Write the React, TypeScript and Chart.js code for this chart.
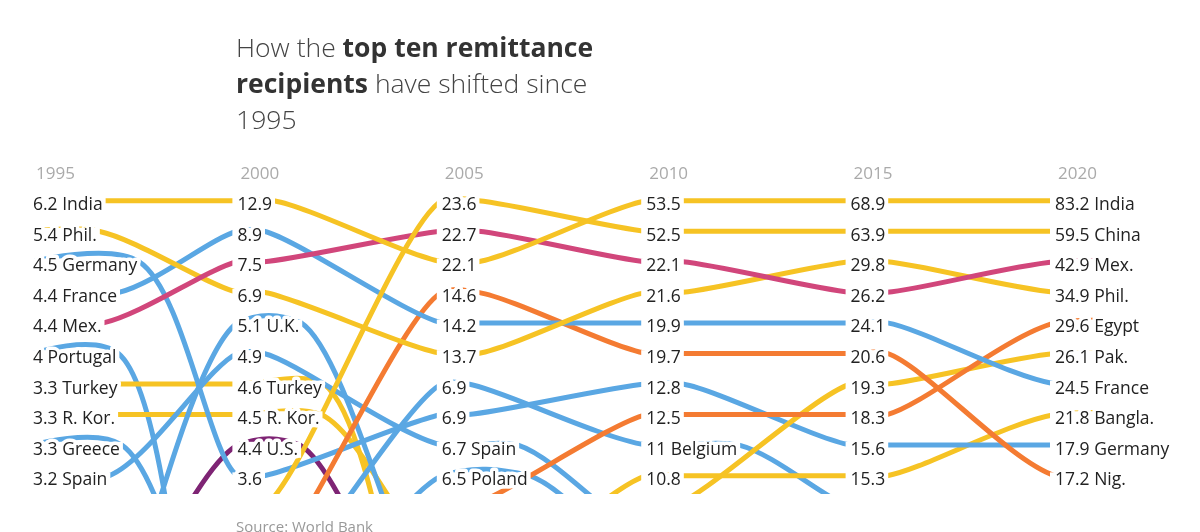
import React, { useEffect, useRef } from 'react';
import { Chart, registerables } from 'chart.js';

Chart.register(...registerables);

// ---------- data ----------
const years = [1995, 2000, 2005, 2010, 2015, 2020];
const topN = 10;

// Remittances received, US$ billion (null = outside the top ten)
// ranks: position among recipients (values > 10 are below the visible top ten)
const indiaValues = [6.2, 12.9, 22.1, 53.5, 68.9, 83.2];
const indiaRanks = [1, 1, 3, 1, 1, 1];
const philValues = [5.4, 6.9, 13.7, 21.6, 29.8, 34.9];
const philRanks = [2, 4, 6, 4, 3, 4];
const germanyValues = [4.5, 3.6, 6.9, 12.8, 15.6, 17.9];
const germanyRanks = [3, 10, 8, 7, 9, 9];
const franceValues = [4.4, 8.9, 14.2, 19.9, 24.1, 24.5];
const franceRanks = [4, 2, 5, 5, 5, 7];
const mexicoValues = [4.4, 7.5, 22.7, 22.1, 26.2, 42.9];
const mexicoRanks = [5, 3, 2, 3, 4, 3];
const portugalValues = [4, null, null, null, null, null];
const portugalRanks = [6, 25, null, null, null, null];
const turkeyValues = [3.3, 4.6, null, null, null, null];
const turkeyRanks = [7, 7, 19, null, null, null];
const koreaValues = [3.3, 4.5, null, null, null, null];
const koreaRanks = [8, 8, 13, null, null, null];
const greeceValues = [3.3, null, null, null, null, null];
const greeceRanks = [9, 18, null, null, null, null];
const spainValues = [3.2, 4.9, 6.7, null, null, null];
const spainRanks = [10, 6, 9, 12, null, null];
const ukValues = [null, 5.1, null, null, null, null];
const ukRanks = [20, 5, 15, null, null, null];
const usValues = [null, 4.4, null, null, null, null];
const usRanks = [18, 9, 17, null, null, null];
const chinaValues = [null, null, 23.6, 52.5, 63.9, 59.5];
const chinaRanks = [null, 11, 1, 2, 2, 2];
const nigeriaValues = [null, null, 14.6, 19.7, 20.6, 17.2];
const nigeriaRanks = [null, 13, 4, 6, 6, 10];
const belgiumValues = [null, null, 6.9, 11, null, null];
const belgiumRanks = [null, 14, 7, 9, 11, null];
const polandValues = [null, null, 6.5, null, null, null];
const polandRanks = [null, 17, 10, 13, null, null];
const egyptValues = [null, null, null, 12.5, 18.3, 29.6];
const egyptRanks = [null, null, 11, 8, 8, 5];
const banglaValues = [null, null, null, 10.8, 15.3, 21.8];
const banglaRanks = [null, null, 14, 10, 10, 8];
const pakValues = [null, null, null, null, 19.3, 26.1];
const pakRanks = [null, null, null, 11, 7, 6];

const regionColors: Record<string, string> = {
  asia: '#F6C324',
  europe: '#5AA7E3',
  latam: '#D1467B',
  africa: '#F47B32',
  northAmerica: '#7E2474',
};

type Country = { name: string; region: string; values: (number | null)[]; ranks: (number | null)[] };

const countries: Country[] = [
  { name: 'India', region: 'asia', values: indiaValues, ranks: indiaRanks },
  { name: 'China', region: 'asia', values: chinaValues, ranks: chinaRanks },
  { name: 'Mex.', region: 'latam', values: mexicoValues, ranks: mexicoRanks },
  { name: 'Phil.', region: 'asia', values: philValues, ranks: philRanks },
  { name: 'France', region: 'europe', values: franceValues, ranks: franceRanks },
  { name: 'Nig.', region: 'africa', values: nigeriaValues, ranks: nigeriaRanks },
  { name: 'Egypt', region: 'africa', values: egyptValues, ranks: egyptRanks },
  { name: 'Pak.', region: 'asia', values: pakValues, ranks: pakRanks },
  { name: 'Germany', region: 'europe', values: germanyValues, ranks: germanyRanks },
  { name: 'Bangla.', region: 'asia', values: banglaValues, ranks: banglaRanks },
  { name: 'Belgium', region: 'europe', values: belgiumValues, ranks: belgiumRanks },
  { name: 'Poland', region: 'europe', values: polandValues, ranks: polandRanks },
  { name: 'Spain', region: 'europe', values: spainValues, ranks: spainRanks },
  { name: 'U.K.', region: 'europe', values: ukValues, ranks: ukRanks },
  { name: 'U.S.', region: 'northAmerica', values: usValues, ranks: usRanks },
  { name: 'Turkey', region: 'asia', values: turkeyValues, ranks: turkeyRanks },
  { name: 'R. Kor.', region: 'asia', values: koreaValues, ranks: koreaRanks },
  { name: 'Portugal', region: 'europe', values: portugalValues, ranks: portugalRanks },
  { name: 'Greece', region: 'europe', values: greeceValues, ranks: greeceRanks },
];

// ---------- helpers ----------
const LABEL_SIZE = 17.5;
const LABEL_FONT = `${LABEL_SIZE}px "Open Sans"`;
const TEXT_DY = 9.5;
const LABEL_SEGMENT_BEND = 0.7;

function buildData(c: Country) {
  let lastTop = -1;
  c.ranks.forEach((r, i) => {
    if (r != null && r <= topN) lastTop = i;
  });
  const pts: any[] = [];
  c.ranks.forEach((r, i) => {
    if (r == null) return;
    const onChart = r <= topN;
    const v = c.values[i];
    const showName = onChart && (i === 0 || i === years.length - 1 || i === lastTop);
    const label = onChart ? (showName ? `${v} ${c.name}` : `${v}`) : '';
    pts.push({ x: years[i], y: r });
    pts.push({ x: years[i], y: r, end: true, label });
  });
  return pts;
}

function layoutLines(chart: any) {
  const ctx = chart.ctx;
  ctx.save();
  ctx.font = LABEL_FONT;
  const hiddenW = ctx.measureText('0.0').width;
  chart.data.datasets.forEach((ds: any, di: number) => {
    const meta = chart.getDatasetMeta(di);
    const els = meta.data as any[];
    const raw = ds.data as any[];
    for (let i = 0; i < els.length; i++) {
      if (raw[i].end) {
        const w = raw[i].label ? ctx.measureText(raw[i].label).width : hiddenW;
        els[i].x = els[i - 1].x + w + 2;
      }
    }
    const n = els.length;
    const dist = (a: any, b: any) => Math.hypot(a.x - b.x, a.y - b.y);
    for (let k = 0; k < n - 1; k++) {
      const p1 = els[k];
      const p2 = els[k + 1];
      const p0 = k > 0 ? els[k - 1] : null;
      const p3 = k + 2 < n ? els[k + 2] : null;
      const l12_2a = dist(p1, p2);
      const l12_a = Math.sqrt(l12_2a);
      let c1x = p1.x, c1y = p1.y, c2x = p2.x, c2y = p2.y;
      if (p0) {
        const l01_2a = dist(p0, p1);
        const l01_a = Math.sqrt(l01_2a);
        if (l01_a > 1e-6) {
          const a = 2 * l01_2a + 3 * l01_a * l12_a + l12_2a;
          const nn = 3 * l01_a * (l01_a + l12_a);
          c1x = (p1.x * a - p0.x * l12_2a + p2.x * l01_2a) / nn;
          c1y = (p1.y * a - p0.y * l12_2a + p2.y * l01_2a) / nn;
        }
      }
      if (p3) {
        const l23_2a = dist(p2, p3);
        const l23_a = Math.sqrt(l23_2a);
        if (l23_a > 1e-6) {
          const b = 2 * l23_2a + 3 * l23_a * l12_a + l12_2a;
          const m = 3 * l23_a * (l23_a + l12_a);
          c2x = (p2.x * b + p1.x * l23_2a - p3.x * l12_2a) / m;
          c2y = (p2.y * b + p1.y * l23_2a - p3.y * l12_2a) / m;
        }
      }
      if (raw[k + 1].end && p0) {
        // segment under a label that has neighbours on both sides: soften its bend
        c1y = p1.y + (c1y - p1.y) * LABEL_SEGMENT_BEND;
        c2y = p2.y + (c2y - p2.y) * LABEL_SEGMENT_BEND;
      }
      p1.cp2x = c1x; p1.cp2y = c1y;
      p2.cp1x = c2x; p2.cp1y = c2y;
    }
    if (meta.dataset) {
      meta.dataset._pointsUpdated = true;
      meta.dataset._path = undefined;
    }
  });
  ctx.restore();
}

const bumpPlugin = {
  id: 'bumpLines',
  beforeDatasetsDraw(chart: any) {
    layoutLines(chart);
  },
  afterDatasetsDraw(chart: any) {
    const ctx = chart.ctx;
    ctx.save();
    ctx.font = LABEL_FONT;
    ctx.textAlign = 'left';
    ctx.textBaseline = 'alphabetic';
    const items: any[] = [];
    chart.data.datasets.forEach((ds: any, di: number) => {
      const els = chart.getDatasetMeta(di).data as any[];
      (ds.data as any[]).forEach((r, i) => {
        if (r.end && r.label) {
          const s = els[i - 1];
          items.push({ x: s.x, y: s.y + TEXT_DY, label: r.label, w: ctx.measureText(r.label).width });
        }
      });
    });
    // white knock-out: a band through the text plus a halo around the glyphs
    ctx.fillStyle = '#ffffff';
    ctx.strokeStyle = '#ffffff';
    ctx.lineWidth = 7;
    ctx.lineJoin = 'round';
    items.forEach((it) => {
      ctx.fillRect(it.x - 5, it.y - 12.8, it.w + 8, 16);
      ctx.strokeText(it.label, it.x, it.y);
    });
    ctx.fillStyle = '#222222';
    items.forEach((it) => ctx.fillText(it.label, it.x, it.y));
    ctx.restore();
  },
};

export default function App() {
  const ref = useRef<HTMLCanvasElement | null>(null);
  useEffect(() => {
    if (!ref.current) return;
    const chart = new Chart(ref.current, {
      type: 'line',
      data: {
        datasets: countries.map((c) => ({
          label: c.name,
          data: buildData(c),
          borderColor: regionColors[c.region],
          backgroundColor: regionColors[c.region],
          borderWidth: 5,
          borderCapStyle: 'round',
          pointRadius: 0,
          pointHoverRadius: 0,
          tension: 0.4,
          fill: false,
          clip: { left: 40, top: 40, right: 40, bottom: 0 },
        })) as any,
      },
      options: {
        animation: false,
        responsive: false,
        devicePixelRatio: 1,
        events: [],
        layout: { padding: { left: 33, right: 145, top: 155.4, bottom: 38 } },
        plugins: {
          legend: { display: false },
          tooltip: { enabled: false },
          title: { display: false },
        },
        scales: {
          x: {
            type: 'linear',
            position: 'top',
            min: years[0],
            max: years[years.length - 1],
            grid: { display: false, drawTicks: false },
            border: { display: false },
            ticks: {
              stepSize: 5,
              autoSkip: false,
              maxRotation: 0,
              align: 'start',
              labelOffset: 3,
              padding: 1,
              color: '#aaaaaa',
              font: { family: '"Open Sans"', size: 17 },
              callback: (v: any) => (years.includes(Number(v)) ? String(v) : ''),
            },
            afterFit: (s: any) => {
              s.height = 30;
            },
          },
          y: { type: 'linear', display: false, reverse: true, min: 0.5, max: 10.6 },
        },
      } as any,
      plugins: [bumpPlugin],
    });
    return () => chart.destroy();
  }, []);

  return (
    <div style={{ position: 'fixed', left: 0, top: 0, width: 1200, height: 532, background: '#fff', overflow: 'hidden' }}>
      <canvas ref={ref} width={1200} height={532} style={{ position: 'absolute', left: 0, top: 0, width: 1200, height: 532 }} />
      <div
        style={{
          position: 'absolute',
          left: 236,
          top: 28.5,
          fontFamily: '"Open Sans", sans-serif',
          fontSize: 26.5,
          lineHeight: '36px',
          fontWeight: 300,
          color: '#444',
          whiteSpace: 'nowrap',
        }}
      >
        How the <b style={{ fontWeight: 700, color: '#333' }}>top ten remittance</b>
        <br />
        <b style={{ fontWeight: 700, color: '#333' }}>recipients</b> have shifted since
        <br />
        1995
      </div>
      <div
        style={{
          position: 'absolute',
          left: 236,
          top: 516,
          fontFamily: '"Open Sans", sans-serif',
          fontSize: 15,
          lineHeight: '20px',
          color: '#999',
          whiteSpace: 'nowrap',
        }}
      >
        Source: World Bank
      </div>
    </div>
  );
}
